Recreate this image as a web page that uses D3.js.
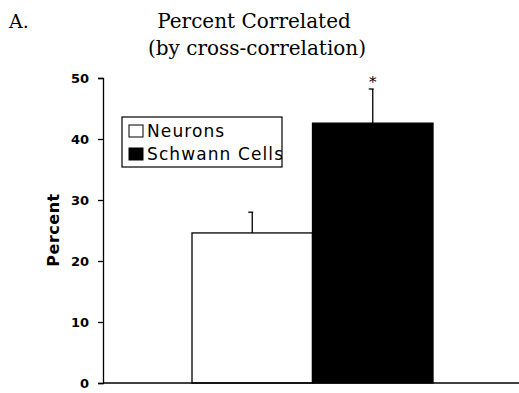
<!DOCTYPE html>
<html>
<head>
<meta charset="utf-8">
<script src="https://cdn.jsdelivr.net/npm/d3@7"></script>
<style>
  body { margin: 0; background: #fff; }
  svg { display: block; }
</style>
</head>
<body>
<div id="chart"></div>
<script>
// Data
const groups = ["Neurons", "Schwann Cells"];
const means = [24.6, 42.6];
const errors = [3.4, 5.6];
const fills = ["#ffffff", "#000000"];
const yTicks = [0, 10, 20, 30, 40, 50];

const width = 519, height = 393;
const margin = {top: 78, right: 0, bottom: 10, left: 103};

const svg = d3.select("#chart").append("svg")
  .attr("width", width)
  .attr("height", height);

const y = d3.scaleLinear()
  .domain([0, 50])
  .range([383, 78]);

const x = d3.scaleBand()
  .domain(groups)
  .range([192, 433])
  .padding(0);

const serif = "'DejaVu Serif', serif";
const sans = "Verdana, 'DejaVu Sans', sans-serif";

// titles
svg.append("text")
  .attr("x", 9).attr("y", 28)
  .style("font", `19px ${serif}`)
  .text("A.");

const title = svg.append("text")
  .attr("text-anchor", "middle")
  .style("font", `20px ${serif}`);
title.append("tspan").attr("x", 254).attr("y", 28).text("Percent Correlated");
title.append("tspan").attr("x", 257).attr("y", 55).text("(by cross-correlation)");

// y axis
const yAxis = svg.append("g")
  .attr("transform", `translate(${margin.left},0)`)
  .call(d3.axisLeft(y).tickValues(yTicks).tickSize(5).tickSizeOuter(5).tickPadding(9));
yAxis.select(".domain").attr("stroke", "#000").attr("stroke-width", 1.3);
yAxis.selectAll(".tick line").attr("stroke", "#000").attr("stroke-width", 1.3);
yAxis.selectAll(".tick text")
  .style("font", `bold 13px ${sans}`)
  .attr("fill", "#000");

svg.append("text")
  .attr("transform", "translate(59,230) rotate(-90)")
  .attr("text-anchor", "middle")
  .style("font", `bold 16px ${sans}`)
  .style("letter-spacing", "0.5px")
  .text("Percent");

// error bars (drawn before bars so the stem starts at the bar top)
const eb = svg.append("g").attr("stroke", "#000").attr("stroke-width", 1.3);
groups.forEach((g, i) => {
  const cx = x(g) + x.bandwidth() / 2;
  eb.append("line")
    .attr("x1", cx).attr("x2", cx)
    .attr("y1", y(means[i])).attr("y2", y(means[i] + errors[i]));
  eb.append("line")
    .attr("x1", cx - 4).attr("x2", cx + 1)
    .attr("y1", y(means[i] + errors[i])).attr("y2", y(means[i] + errors[i]));
});

// bars
svg.append("g").selectAll("rect")
  .data(groups)
  .join("rect")
  .attr("x", d => x(d))
  .attr("y", (d, i) => y(means[i]))
  .attr("width", x.bandwidth())
  .attr("height", (d, i) => y(0) - y(means[i]))
  .attr("fill", (d, i) => fills[i])
  .attr("stroke", "#000")
  .attr("stroke-width", 1.3);

// significance star
svg.append("text")
  .attr("x", x(groups[1]) + x.bandwidth() / 2)
  .attr("y", y(means[1] + errors[1]) - 2)
  .attr("text-anchor", "middle")
  .style("font", `15px ${serif}`)
  .text("*");

// x axis line
svg.append("line")
  .attr("x1", margin.left).attr("x2", width)
  .attr("y1", y(0)).attr("y2", y(0))
  .attr("stroke", "#000").attr("stroke-width", 1.5);

// legend (text is clipped by the box, as in the original)
svg.append("clipPath").attr("id", "legend-clip")
  .append("rect").attr("width", 160).attr("height", 50);
const legend = svg.append("g").attr("transform", "translate(122,117)");
const legendBody = legend.append("g").attr("clip-path", "url(#legend-clip)");
legendBody.append("rect")
  .attr("width", 160).attr("height", 50)
  .attr("fill", "#fff");
groups.forEach((g, i) => {
  const row = legendBody.append("g").attr("transform", `translate(7,${8 + i * 23})`);
  row.append("rect")
    .attr("width", 14).attr("height", 12)
    .attr("fill", fills[i]).attr("stroke", "#000").attr("stroke-width", 1);
  row.append("text")
    .attr("x", 18).attr("y", 12)
    .style("font", `17px ${sans}`)
    .style("letter-spacing", "1.1px")
    .attr("fill", "#000")
    .text(g);
});
legend.append("rect")
  .attr("width", 160).attr("height", 50)
  .attr("fill", "none").attr("stroke", "#000").attr("stroke-width", 1.2);
</script>
</body>
</html>
